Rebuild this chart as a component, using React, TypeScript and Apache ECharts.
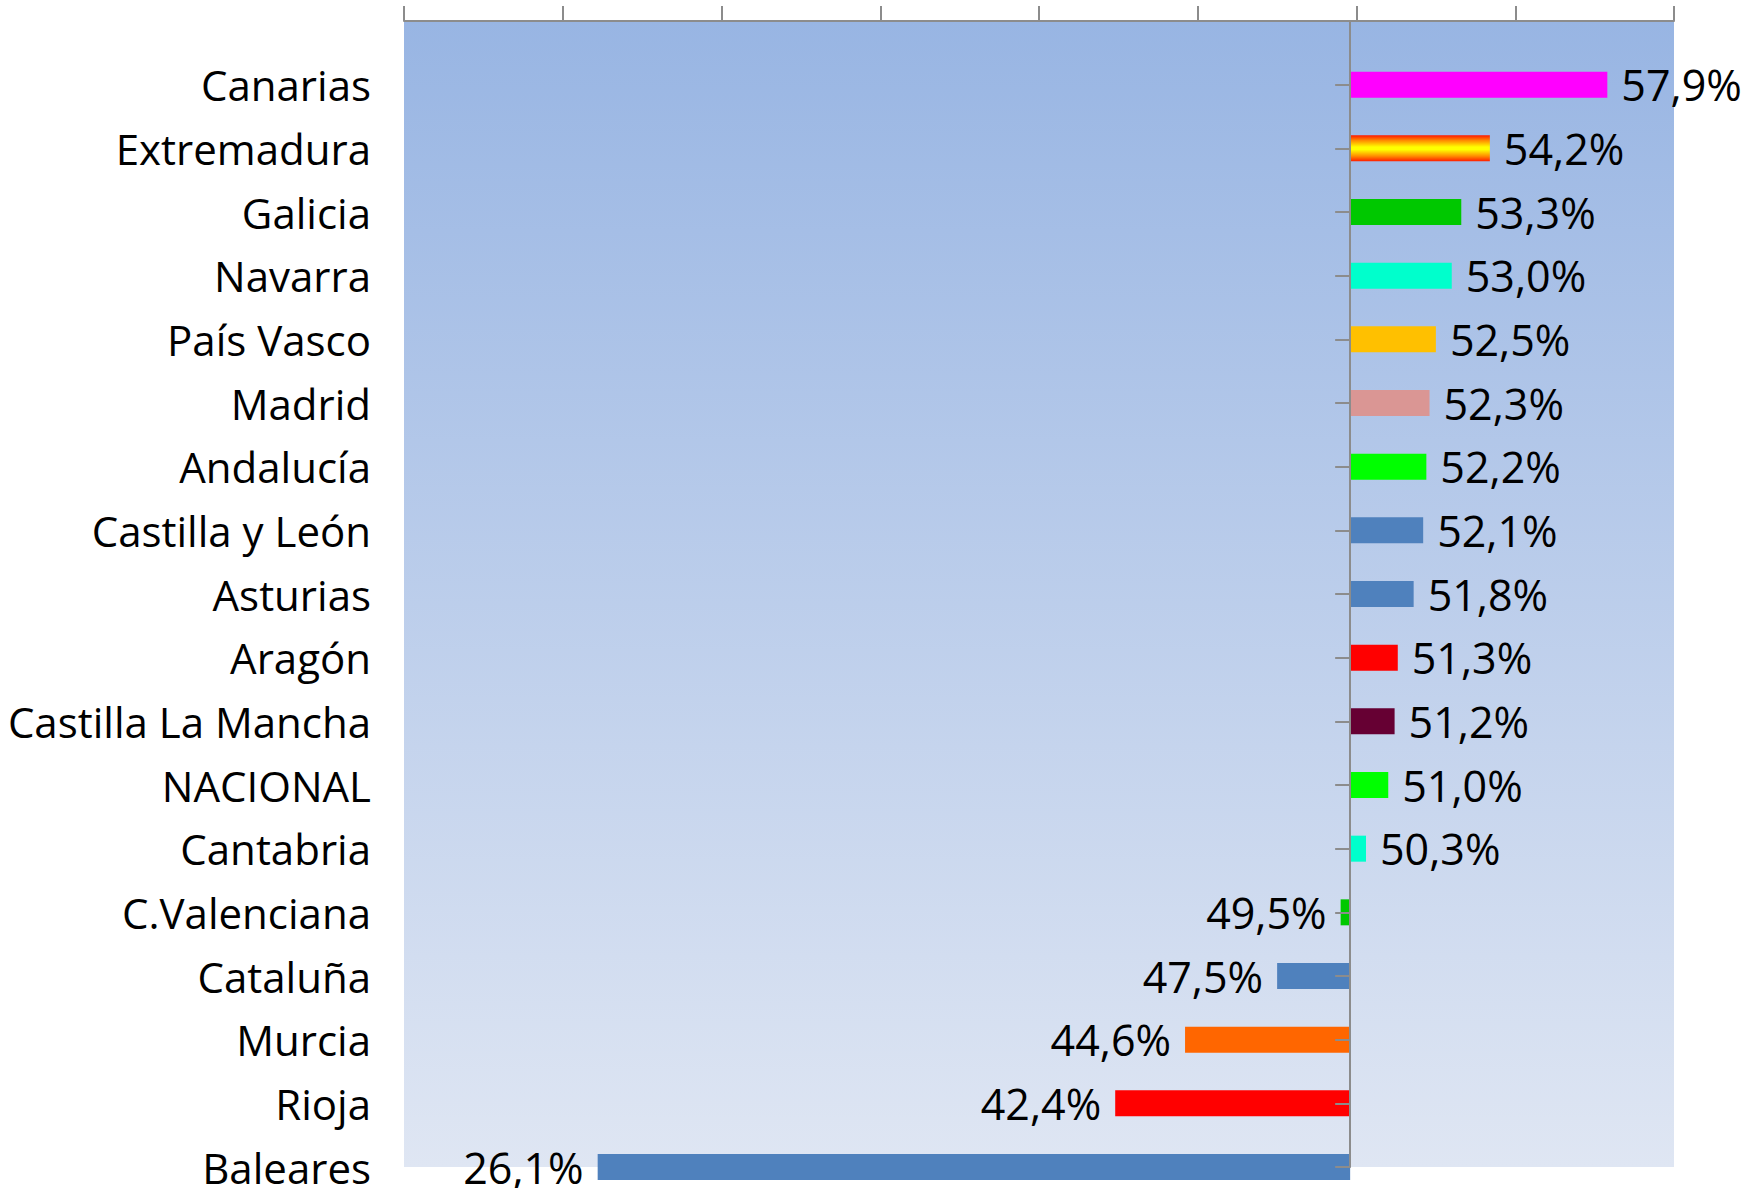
import React, { useEffect, useRef } from "react";
import * as echarts from "echarts";

const categories = [
  "Canarias",
  "Extremadura",
  "Galicia",
  "Navarra",
  "País Vasco",
  "Madrid",
  "Andalucía",
  "Castilla y León",
  "Asturias",
  "Aragón",
  "Castilla La Mancha",
  "NACIONAL",
  "Cantabria",
  "C.Valenciana",
  "Cataluña",
  "Murcia",
  "Rioja",
  "Baleares",
];

const values = [57.9, 54.2, 53.3, 53.0, 52.5, 52.3, 52.2, 52.1, 51.8, 51.3, 51.2, 51.0, 50.3, 49.5, 47.5, 44.6, 42.4, 26.1];

const barColors: any[] = [
  "#FF00FF",
  "extremadura",
  "#00C800",
  "#00FFCC",
  "#FFC000",
  "#DA9694",
  "#00FF00",
  "#4F81BD",
  "#4F81BD",
  "#FF0000",
  "#660033",
  "#00FF00",
  "#00FFCC",
  "#00C800",
  "#4F81BD",
  "#FF6600",
  "#FF0000",
  "#4F81BD",
];

const crossValue = 49.8;
const axisMin = 20;
const axisMax = 60;
const axisInterval = 5;

const FONT = "'Open Sans'";

export default function App() {
  const ref = useRef<HTMLDivElement>(null);

  useEffect(() => {
    document.body.style.margin = "0";
    if (!ref.current) return;
    const chart = echarts.init(ref.current, undefined, { renderer: "svg" });

    const W = 1763;
    const gridLeft = 404;
    const gridRight = 89;
    const gridWidth = W - gridLeft - gridRight;
    const crossOffset = -((axisMax - crossValue) / (axisMax - axisMin)) * gridWidth;

    const extremaduraGrad = {
      type: "linear",
      x: 0,
      y: 0,
      x2: 0,
      y2: 1,
      colorStops: [
        { offset: 0, color: "#FF1A00" },
        { offset: 0.2, color: "#FF8C00" },
        { offset: 0.45, color: "#FFFF00" },
        { offset: 0.55, color: "#FFFF00" },
        { offset: 0.8, color: "#FF8C00" },
        { offset: 1, color: "#FF1A00" },
      ],
    };

    const axisData = ["", ...categories];
    const fmt = (v: number) => v.toFixed(1).replace(".", ",") + "%";

    const baseData: any[] = [null, ...values.map((v) => Math.min(v, crossValue))];
    const deltaData: any[] = [
      null,
      ...values.map((v, i) => ({
        value: Math.abs(v - crossValue),
        itemStyle: { color: barColors[i] === "extremadura" ? extremaduraGrad : barColors[i] },
        label: { position: v >= crossValue ? "right" : "left" },
      })),
    ];

    chart.setOption({
      animation: false,
      backgroundColor: "#ffffff",
      grid: {
        left: gridLeft,
        right: gridRight,
        top: 21,
        bottom: 18,
        show: true,
        borderWidth: 0,
        backgroundColor: {
          type: "linear",
          x: 0,
          y: 0,
          x2: 0,
          y2: 1,
          colorStops: [
            { offset: 0, color: "#98B5E3" },
            { offset: 1, color: "#DFE6F3" },
          ],
        },
      },
      xAxis: {
        type: "value",
        position: "top",
        min: axisMin,
        max: axisMax,
        interval: axisInterval,
        axisLine: { show: true, lineStyle: { color: "#8C8C8C", width: 2 } },
        axisTick: { show: true, length: 15, lineStyle: { color: "#8C8C8C", width: 2 } },
        axisLabel: { show: false },
        splitLine: { show: false },
      },
      yAxis: [
        {
          type: "category",
          data: axisData,
          inverse: true,
          boundaryGap: false,
          position: "left",
          axisLine: { show: false, onZero: false },
          axisTick: { show: false },
          axisLabel: {
            margin: 33,
            fontSize: 42,
            fontFamily: FONT,
            color: "#000000",
          },
        },
        {
          type: "category",
          data: axisData,
          inverse: true,
          boundaryGap: false,
          position: "right",
          offset: crossOffset,
          z: 5,
          axisLine: { show: true, onZero: false, lineStyle: { color: "#8C8C8C", width: 2 } },
          axisTick: { show: true, inside: true, length: 15, lineStyle: { color: "#8C8C8C", width: 2 } },
          axisLabel: { show: false },
        },
      ],
      series: [
        {
          type: "bar",
          stack: "s",
          yAxisIndex: 0,
          barWidth: 26,
          silent: true,
          itemStyle: { color: "rgba(0,0,0,0)" },
          data: baseData,
        },
        {
          type: "bar",
          stack: "s",
          yAxisIndex: 0,
          barWidth: 26,
          data: deltaData,
          label: {
            show: true,
            distance: 14,
            fontSize: 43,
            fontFamily: FONT,
            color: "#000000",
            formatter: (p: any) => fmt(values[p.dataIndex - 1]),
          },
        },
      ],
    });

    return () => chart.dispose();
  }, []);

  return <div ref={ref} style={{ width: 1763, height: 1188 }} />;
}
